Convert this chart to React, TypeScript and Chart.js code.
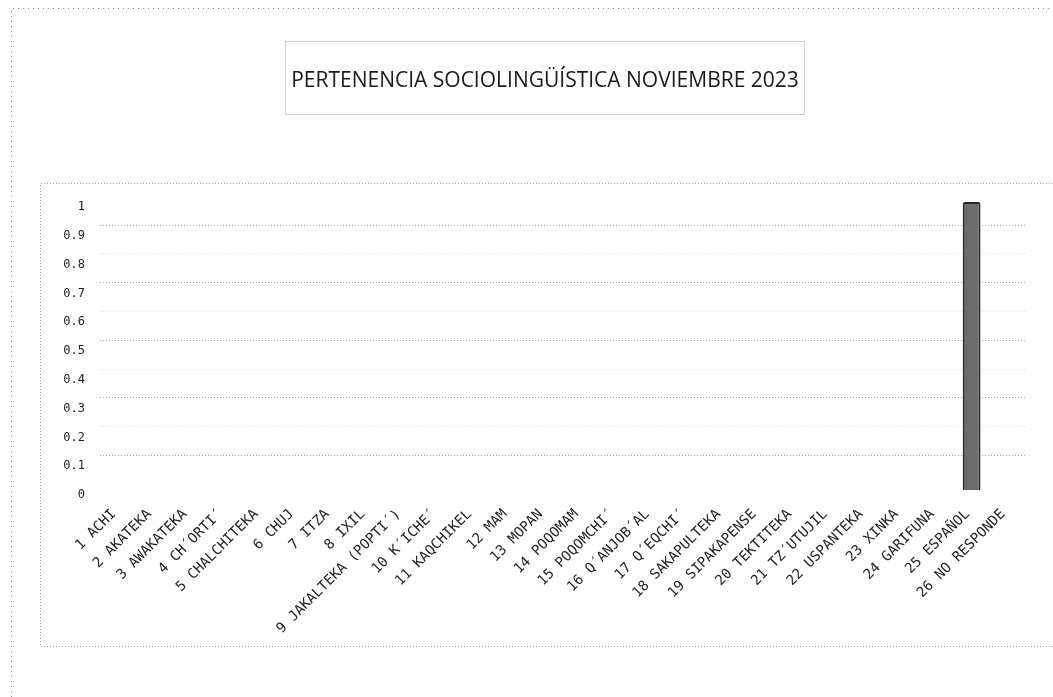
import React, { useEffect, useRef } from "react";
import { Chart, registerables } from "chart.js";

Chart.register(...registerables);

const titleText = "PERTENENCIA SOCIOLINGÜÍSTICA NOVIEMBRE 2023";

const categories = [
  "1 ACHI",
  "2 AKATEKA",
  "3 AWAKATEKA",
  "4 CH´ORTI´",
  "5 CHALCHITEKA",
  "6 CHUJ",
  "7 ITZA",
  "8 IXIL",
  "9 JAKALTEKA (POPTI´)",
  "10 K´ICHE´",
  "11 KAQCHIKEL",
  "12 MAM",
  "13 MOPAN",
  "14 POQOMAM",
  "15 POQOMCHI´",
  "16 Q´ANJOB´AL",
  "17 Q´EQCHI´",
  "18 SAKAPULTEKA",
  "19 SIPAKAPENSE",
  "20 TEKTITEKA",
  "21 TZ´UTUJIL",
  "22 USPANTEKA",
  "23 XINKA",
  "24 GARIFUNA",
  "25 ESPAÑOL",
  "26 NO RESPONDE",
];

const values = [0, 0, 0, 0, 0, 0, 0, 0, 0, 0, 0, 0, 0, 0, 0, 0, 0, 0, 0, 0, 0, 0, 0, 0, 1, 0];

const yTickValues = [0, 0.1, 0.2, 0.3, 0.4, 0.5, 0.6, 0.7, 0.8, 0.9, 1];
const yTickLabels = ["0", "0.1", "0.2", "0.3", "0.4", "0.5", "0.6", "0.7", "0.8", "0.9", "1"];

// faint scanned grid lines (they sit slightly above the tick labels in the picture)
const gridLevels = [0.12, 0.22, 0.32, 0.42, 0.52, 0.62, 0.72, 0.82, 0.92];

const decorations = {
  id: "decorations",
  beforeDraw(chart: any) {
    const ctx = chart.ctx;
    const W = chart.width;
    const H = chart.height;
    ctx.save();
    ctx.lineWidth = 1;

    // outer chart border (left + top visible)
    ctx.strokeStyle = "#8a8a8a";
    ctx.setLineDash([1, 4]);
    ctx.beginPath();
    ctx.moveTo(11.5, H);
    ctx.lineTo(11.5, 8.5);
    ctx.lineTo(W, 8.5);
    ctx.stroke();

    // plot area border
    ctx.strokeStyle = "#a8a8a8";
    ctx.setLineDash([1, 2]);
    ctx.beginPath();
    ctx.moveTo(W, 183.5);
    ctx.lineTo(40.5, 183.5);
    ctx.lineTo(40.5, 646.5);
    ctx.lineTo(W, 646.5);
    ctx.stroke();

    // title box
    ctx.strokeStyle = "#9a9a9a";
    ctx.setLineDash([1, 1]);
    ctx.strokeRect(285.5, 41.5, 519, 73);

    // title
    ctx.setLineDash([]);
    ctx.fillStyle = "#1a1a1a";
    ctx.font = '21px "Open Sans"';
    ctx.textAlign = "center";
    ctx.textBaseline = "alphabetic";
    ctx.fillText(titleText, 545, 87);
    ctx.restore();
  },
};

export default function App() {
  const canvasRef = useRef<HTMLCanvasElement | null>(null);

  useEffect(() => {
    document.body.style.margin = "0";
    const canvas = canvasRef.current;
    if (!canvas) return;
    const chart = new Chart(canvas, {
      type: "bar",
      data: {
        labels: categories,
        datasets: [
          {
            data: values,
            backgroundColor: "#6c6c6c",
            borderColor: "#262626",
            borderWidth: (c: any) => (values[c.dataIndex] > 0 ? 2 : 0),
            borderRadius: 2,
            borderSkipped: "bottom",
            barPercentage: 0.5,
            categoryPercentage: 1,
            yAxisID: "y",
          },
        ],
      },
      options: {
        responsive: false,
        animation: false,
        events: [],
        layout: { padding: { top: 202, left: 40, right: 28, bottom: 0 } },
        plugins: {
          legend: { display: false },
          tooltip: { enabled: false },
          title: { display: false },
        },
        scales: {
          x: {
            type: "category",
            offset: true,
            grid: { display: false },
            border: { display: false },
            ticks: {
              autoSkip: false,
              minRotation: 45,
              maxRotation: 45,
              padding: 8,
              labelOffset: -4,
              color: "#222",
              font: { family: '"DejaVu Sans Mono"', size: 14 },
            },
            afterFit: (s: any) => {
              s.height = 207;
            },
          },
          y: {
            type: "linear",
            position: "left",
            min: 0,
            max: 1,
            grid: { display: false, drawTicks: false },
            border: { display: false },
            ticks: {
              padding: 15,
              labelOffset: 5,
              color: "#1e1e1e",
              font: { family: '"DejaVu Sans Mono"', size: 12 },
              callback: (_v: any, i: number) => yTickLabels[i],
            },
            afterBuildTicks: (s: any) => {
              s.ticks = yTickValues.map((v) => ({ value: v }));
            },
            afterFit: (s: any) => {
              s.width = 60;
            },
          },
          yg: {
            type: "linear",
            position: "left",
            min: 0,
            max: 1,
            ticks: { display: false },
            border: { display: false, dash: [1, 2] },
            grid: {
              drawTicks: false,
              lineWidth: 1,
              color: (c: any) => (c.index % 2 === 0 ? "#a4a4a4" : "#e0e0e0"),
            },
            afterBuildTicks: (s: any) => {
              s.ticks = gridLevels.map((v) => ({ value: v }));
            },
            afterFit: (s: any) => {
              s.width = 0;
            },
          },
        },
      } as any,
      plugins: [decorations],
    });
    return () => chart.destroy();
  }, []);

  return (
    <div style={{ position: "absolute", left: 0, top: 0, width: 1053, height: 697, background: "#fff" }}>
      <canvas ref={canvasRef} width={1053} height={697} style={{ display: "block" }} />
    </div>
  );
}
